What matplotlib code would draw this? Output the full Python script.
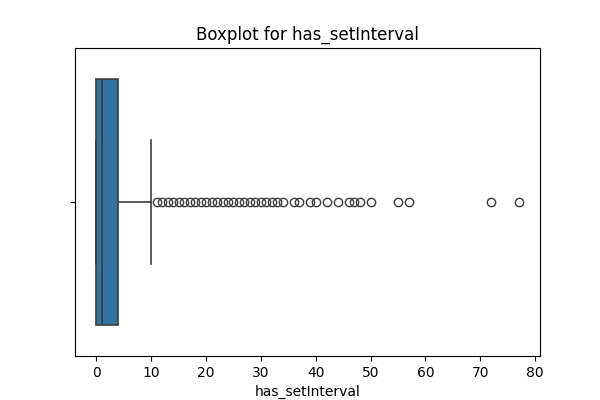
import matplotlib.pyplot as plt

# summary statistics
q1, med, q3 = 0, 1, 4
whislo, whishi = 0, 10
outliers = list(range(11, 35)) + [36, 37, 39, 40, 42, 44, 46, 47, 48, 50, 55, 57, 72, 77]

stats = [{'q1': q1, 'med': med, 'q3': q3, 'whislo': whislo, 'whishi': whishi,
          'fliers': outliers, 'label': ''}]

fig, ax = plt.subplots(figsize=(6, 4), dpi=100)
lc = '#3d3d3d'
ax.bxp(stats, positions=[0], widths=0.8, vert=False, patch_artist=True,
       boxprops=dict(facecolor='#3274a1', edgecolor=lc, linewidth=1.2),
       medianprops=dict(color=lc, linewidth=1.2),
       whiskerprops=dict(color=lc, linewidth=1.2),
       capprops=dict(color=lc, linewidth=1.2),
       flierprops=dict(marker='o', markerfacecolor='none', markeredgecolor=lc, markersize=6))
ax.set_ylim(0.5, -0.5)
ax.set_yticks([0])
ax.set_yticklabels([''])
ax.set_xlim(-3.9, 80.9)
ax.set_xticks(range(0, 81, 10))
ax.set_xlabel('has_setInterval')
ax.set_title('Boxplot for has_setInterval')
plt.savefig('out.png')
